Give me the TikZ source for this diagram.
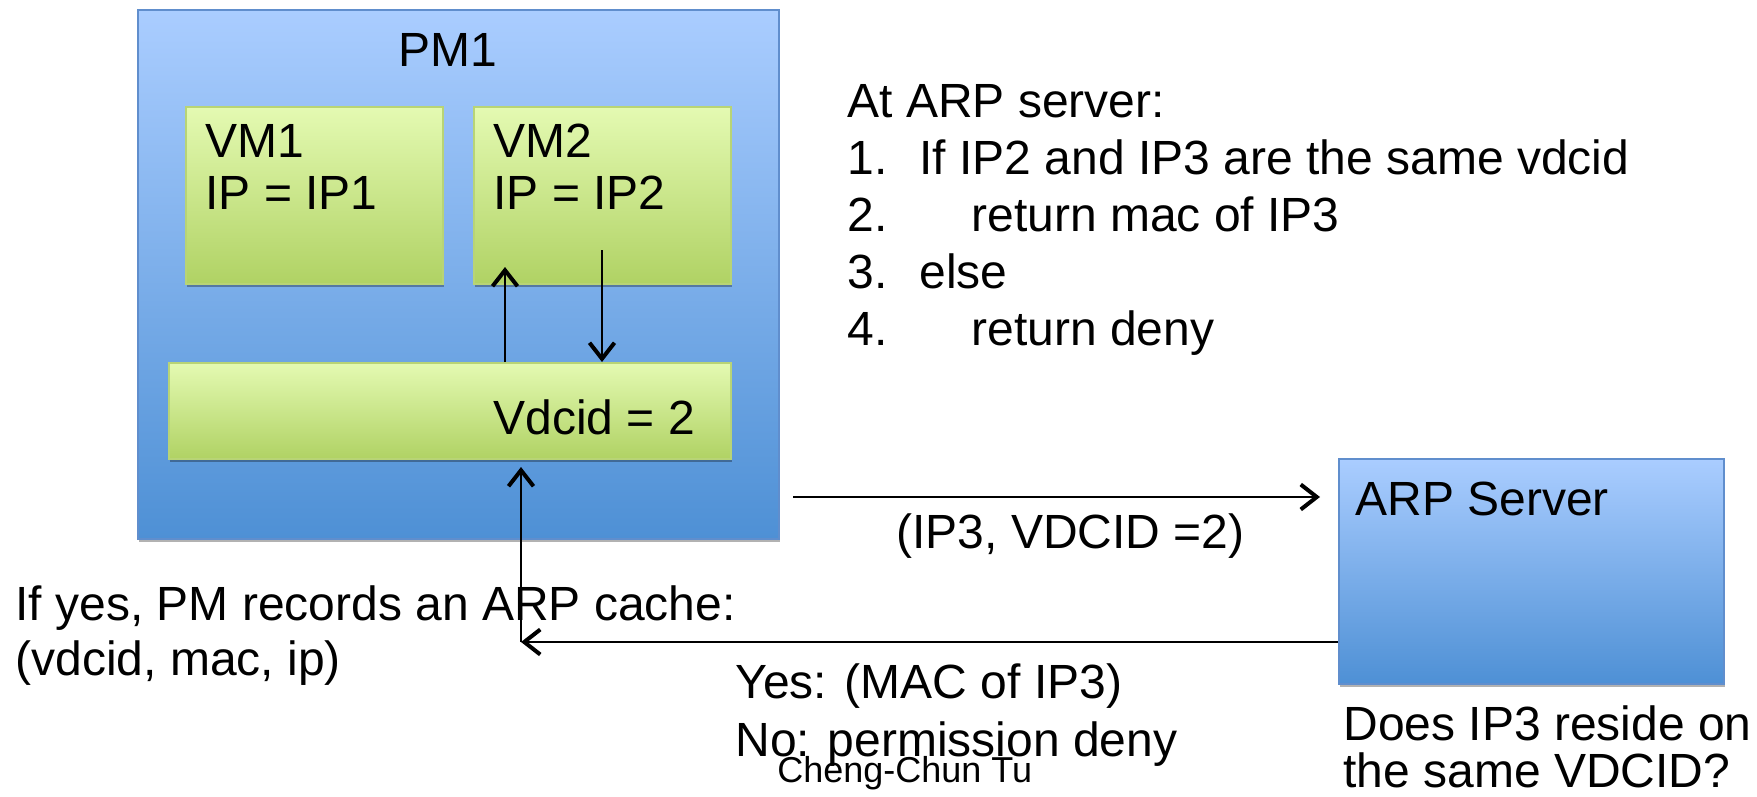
\documentclass[tikz,border=0pt]{standalone}
\usepackage{fontspec}
\setmainfont{Liberation Sans}
\usepackage{tikz}
\usetikzlibrary{arrows.meta,shadows}

\definecolor{pmtop}{RGB}{170,205,255}
\definecolor{pmbot}{RGB}{78,144,213}
\definecolor{pmline}{RGB}{96,142,205}
\definecolor{vmtop}{RGB}{228,250,178}
\definecolor{vmbot}{RGB}{176,210,100}
\definecolor{vmline}{RGB}{184,212,118}

\tikzset{
  hostbox/.style={draw=pmline,line width=0.8pt,top color=pmtop,bottom color=pmbot,
    inner sep=0pt,anchor=north west,
    drop shadow={shadow xshift=0.8pt,shadow yshift=-1.5pt,opacity=0.3,fill=black}},
  vmbox/.style={draw=vmline,line width=0.8pt,top color=vmtop,bottom color=vmbot,
    inner sep=0pt,anchor=north west,
    drop shadow={shadow xshift=0.8pt,shadow yshift=-1.5pt,opacity=0.3,fill=black}},
  txt/.style={anchor=base west,inner sep=0pt,align=left,font=\fontsize{24}{28.5}\selectfont},
  arr/.style={line width=1pt,-{Straight Barb[length=8pt,width=12.5pt,line width=2pt]}}
}

\begin{document}
\begin{tikzpicture}[x=0.5pt,y=-0.5pt]
\useasboundingbox (0,0) rectangle (1757,797);

% physical machine with its two VMs
\node[hostbox,minimum width=320.5pt,minimum height=264.5pt] (pm) at (137,9) {};
\node[txt] (pmt) at (398,67) {PM1};
\node[vmbox,minimum width=128.5pt,minimum height=88.5pt] (vm1) at (185,106) {};
\node[vmbox,minimum width=128.5pt,minimum height=88.5pt] (vm2) at (473,106) {};
\node[vmbox,minimum width=281pt,minimum height=48pt] (vdc) at (168,362) {};
\node[txt,font=\fontsize{24}{25.5}\selectfont] (vm1t) at (205,209) {VM1\\IP = IP1};
\node[txt,font=\fontsize{24}{25.5}\selectfont] (vm2t) at (493,209) {VM2\\IP = IP2};
\node[txt] (vdct) at (493,434) {Vdcid = 2};

% ARP server
\node[hostbox,minimum width=192.5pt,minimum height=112.5pt] (arp) at (1338,458) {};
\node[txt] (arpt) at (1355,515) {ARP Server};

\node[txt] (algo) at (847,345) {At ARP server:\\
  \makebox[36pt][l]{1.}If IP2 and IP3 are the same vdcid\\
  \makebox[62pt][l]{2.}return mac of IP3\\
  \makebox[36pt][l]{3.}else\\
  \makebox[62pt][l]{4.}return deny};

% arrows
\coordinate (upTip) at (505,267);
\coordinate (dnTail) at (602,250);
\coordinate (reqTail) at (793,497);
\coordinate (ackCorner) at (521,642);
\coordinate (ackTip) at (521,467);
\draw[arr] (upTip |- vdc.north) -- (upTip);
\draw[arr] (dnTail) -- (dnTail |- vdc.north);
\draw[arr,shorten >=9pt] (reqTail) -- (reqTail -| arp.west);
\draw[arr] (ackCorner -| arp.west) -- (ackCorner);
\draw[arr] (ackCorner) -- (ackTip);

\node[txt] (req) at (896,548) {(IP3, VDCID =2)};
\node[txt,font=\fontsize{24}{27.5}\selectfont] (cache) at (15,675) {If yes, PM records an ARP cache:\\(vdcid, mac, ip)};
\node[txt,font=\fontsize{24}{29}\selectfont] (ack) at (735,756) {Yes: (MAC of IP3)\\No: permission deny};
\node[txt,font=\fontsize{18}{20}\selectfont] (author) at (777,782) {Cheng-Chun Tu};
\node[txt,font=\fontsize{24}{23.5}\selectfont] (ask) at (1343,787) {Does IP3 reside on\\the same VDCID?};
\end{tikzpicture}
\end{document}
